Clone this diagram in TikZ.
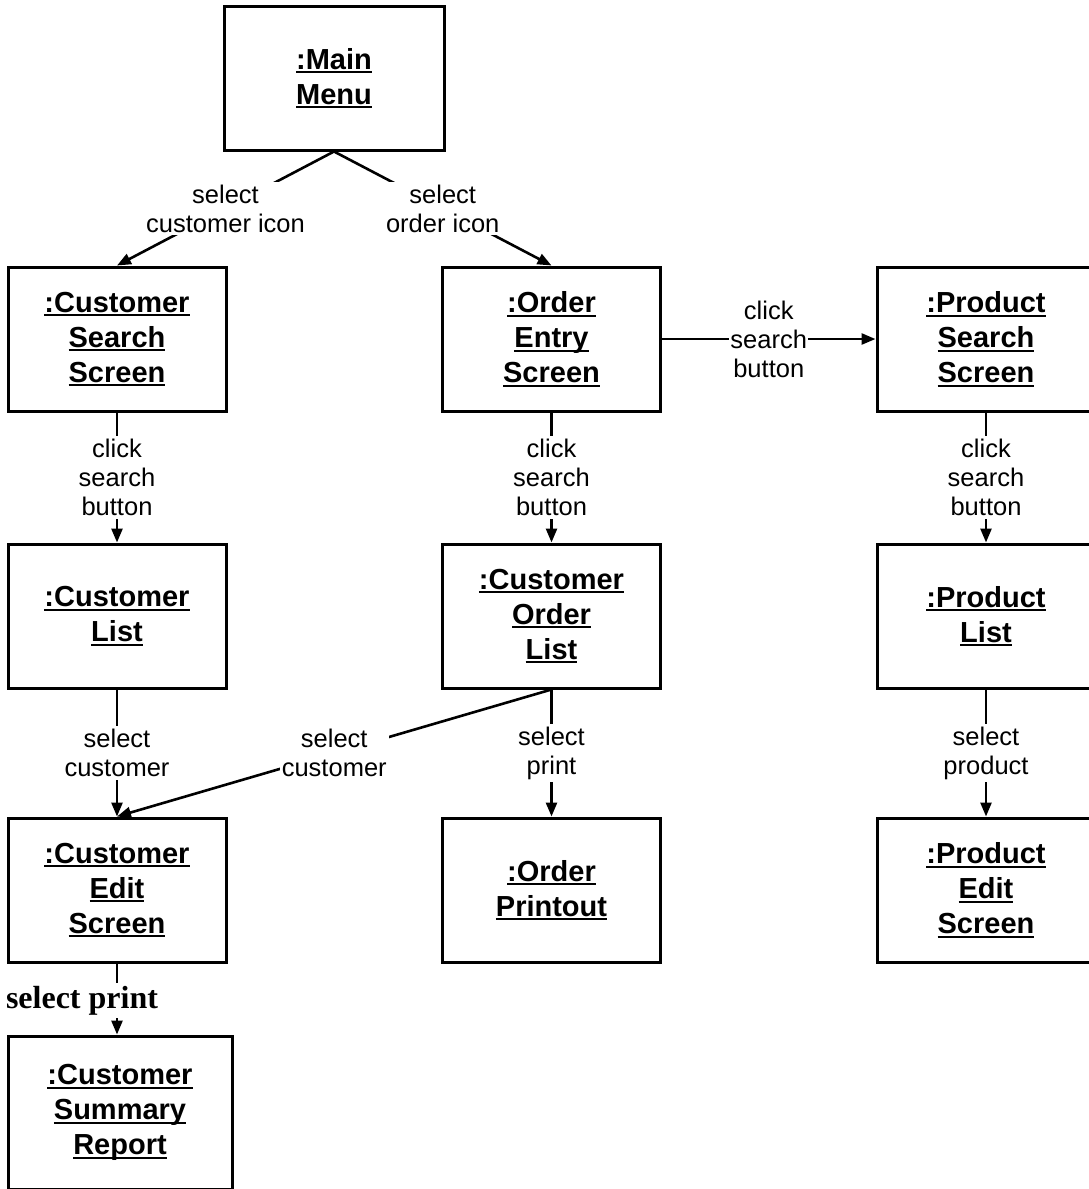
\documentclass[tikz,border=0pt]{standalone}
\usepackage{fontspec}
\setmainfont{Liberation Sans}
\newfontfamily\timesfam{Liberation Serif}
\usetikzlibrary{arrows.meta}
\newcommand\boxul[1]{\setbox0=\hbox{#1}\rlap{\rule[-4pt]{\wd0}{2pt}}\box0}
\begin{document}
\begin{tikzpicture}[x=1pt,y=-1pt,
  obj/.style={draw,line width=3pt,minimum width=218pt,minimum height=144pt,
    font=\fontsize{29}{35}\selectfont\bfseries,align=center,inner sep=0pt},
  lbl/.style={fill=white,font=\fontsize{25.5}{29}\selectfont,align=center,
    inner xsep=2pt,inner ysep=3pt},
  conn/.style={line width=2.6pt,-{Triangle[length=14pt,width=11pt]}}]
\clip (0,0) rectangle (1089,1189);
\fill[white] (0,0) rectangle (1089,1189);

\node[obj,minimum width=220pt] (mm) at (334,78) {\boxul{:Main}\\\boxul{Menu}};

\node[obj] (css) at (117,339) {\boxul{:Customer}\\\boxul{Search}\\\boxul{Screen}};
\node[obj] (oes) at (551.5,339) {\boxul{:Order}\\\boxul{Entry}\\\boxul{Screen}};
\node[obj] (pss) at (986,339) {\boxul{:Product}\\\boxul{Search}\\\boxul{Screen}};

\node[obj] (cl) at (117,616) {\boxul{:Customer}\\\boxul{List}};
\node[obj] (col) at (551.5,616) {\boxul{:Customer}\\\boxul{Order}\\\boxul{List}};
\node[obj] (pl) at (986,616) {\boxul{:Product}\\\boxul{List}};

\node[obj] (ces) at (117,890) {\boxul{:Customer}\\\boxul{Edit}\\\boxul{Screen}};
\node[obj] (op) at (551.5,890) {\boxul{:Order}\\\boxul{Printout}};
\node[obj] (pes) at (986,890) {\boxul{:Product}\\\boxul{Edit}\\\boxul{Screen}};

\node[obj,minimum width=224pt,minimum height=153pt] (csr) at (120,1112.5)
  {\boxul{:Customer}\\\boxul{Summary}\\\boxul{Report}};

\draw[conn] (mm.south) -- node[lbl]{select\\customer icon} (css.north);
\draw[conn] (mm.south) -- node[lbl]{select\\order icon} (oes.north);
\draw[conn] (oes.east) -- node[lbl,inner sep=1pt]{click\\search\\button} (pss.west);

\draw[conn] (css.south) -- node[lbl]{click\\search\\button} (cl.north);
\draw[conn] (oes.south) -- node[lbl]{click\\search\\button} (col.north);
\draw[conn] (pss.south) -- node[lbl]{click\\search\\button} (pl.north);

\draw[conn] (cl.south) -- node[lbl]{select\\customer} (ces.north);
\draw[conn] (col.south) -- node[lbl]{select\\customer} (ces.north);
\draw[conn] (col.south) -- node[lbl]{select\\print} (op.north);
\draw[conn] (pl.south) -- node[lbl]{select\\product} (pes.north);

\draw[conn] (ces.south) -- node[pos=0.52,xshift=-35pt,fill=white,inner xsep=2pt,inner ysep=3pt,
  font=\timesfam\bfseries\fontsize{32}{34}\selectfont]{select print} (ces.south |- csr.north);
\end{tikzpicture}
\end{document}
